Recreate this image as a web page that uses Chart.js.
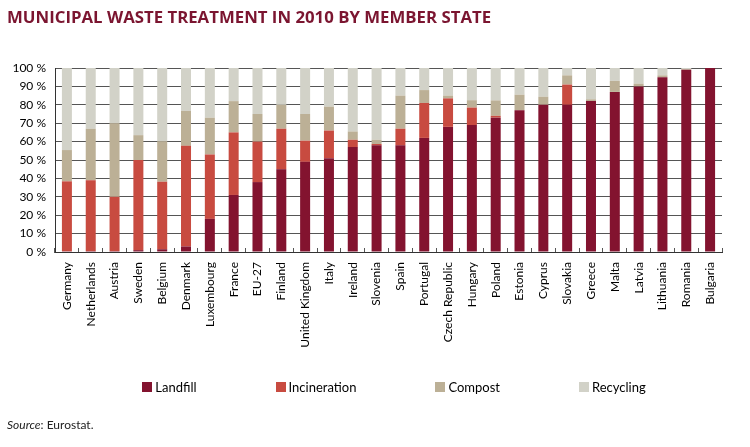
<!DOCTYPE html>
<html>
<head>
<meta charset="utf-8">
<script src="https://cdn.jsdelivr.net/npm/chart.js@4"></script>
<style>
  body { margin: 0; background: #fff; }
  #wrap { position: relative; width: 750px; height: 447px; overflow: hidden; }
  #title { position: absolute; left: 7px; top: 5px; font: bold 16.8px "Open Sans", sans-serif; color: #7b1530; white-space: nowrap; }
  #legend { position: absolute; left: 0; top: 379px; width: 788px; display: flex; justify-content: center; gap: 79px; font: 13px Lato, sans-serif; color: #000; }
  #legend .item { display: flex; align-items: center; white-space: nowrap; }
  #legend .box { width: 10px; height: 10px; margin-right: 3px; }
  #source { position: absolute; left: 7px; top: 417px; font: 12px Lato, sans-serif; color: #222; }
</style>
</head>
<body>
<div id="wrap">
  <canvas id="wasteChart" width="750" height="447"></canvas>
  <div id="title">MUNICIPAL WASTE TREATMENT IN 2010 BY MEMBER STATE</div>
  <div id="legend"></div>
  <div id="source"><i>Source</i>: Eurostat.</div>
</div>
<script>
const countries = ['Germany', 'Netherlands', 'Austria', 'Sweden', 'Belgium', 'Denmark', 'Luxembourg', 'France', 'EU-27',
    'Finland', 'United Kingdom', 'Italy', 'Ireland', 'Slovenia', 'Spain', 'Portugal', 'Czech Republic', 'Hungary',
    'Poland', 'Estonia', 'Cyprus', 'Slovakia', 'Greece', 'Malta', 'Latvia', 'Lithuania', 'Romania', 'Bulgaria'];

// shares in % of municipal waste treated
const landfill = [0.4, 0.5, 0.5, 1, 1.5, 3, 18, 31, 38, 45, 49, 51, 57, 58, 58, 62, 68, 69, 73, 77, 80, 80, 82, 87, 90, 95, 99, 100];
const incineration = [38, 38.5, 29.5, 49, 36.7, 54.7, 35, 34, 22, 22, 11.5, 15, 4, 0.7, 9, 19, 15.5, 9.5, 1, 0, 0, 11, 0, 0, 0, 0, 0, 0];
const compost = [17, 28, 40, 13.5, 22, 19, 20, 17, 15, 13, 14.5, 13, 4.5, 2.3, 18, 7, 1.5, 4, 8.4, 8.5, 4.4, 5, 1, 6, 1.5, 1, 0.4, 0];
const recycling = [44.6, 33, 30, 36.5, 39.8, 23.3, 27, 18, 25, 20, 25, 21, 34.5, 39, 15, 12, 15, 17.5, 17.6, 14.5, 15.6, 4, 17, 7, 8.5, 4, 0.6, 0];

const yTicks = [0, 10, 20, 30, 40, 50, 60, 70, 80, 90, 100];

const labelFont = 'Lato, sans-serif';

function series(label, data, color) {
    return {
        label: label,
        data: data,
        backgroundColor: color,
        borderWidth: 0,
        barPercentage: 0.42,
        categoryPercentage: 1
    };
}

const wasteChart = new Chart(document.getElementById('wasteChart'), {
    type: 'bar',
    data: {
        labels: countries,
        datasets: [
            series('Landfill', landfill, '#83132f'),
            series('Incineration', incineration, '#c84b40'),
            series('Compost', compost, '#bcb096'),
            series('Recycling', recycling, '#d2d2c8')
        ]
    },
    options: {
        responsive: false,
        animation: false,
        layout: { padding: { top: 68, right: 28, left: 0, bottom: 77 } },
        plugins: {
            tooltip: { enabled: false },
            legend: { display: false }
        },
        scales: {
            x: {
                stacked: true,
                grid: { drawOnChartArea: false, tickLength: -4, color: '#555' },
                border: { color: '#333' },
                ticks: {
                    minRotation: 90,
                    maxRotation: 90,
                    autoSkip: false,
                    padding: 14,
                    color: '#000',
                    font: { family: labelFont, size: 12 }
                },
                afterFit: scale => { scale.height = 118; }
            },
            y: {
                stacked: true,
                min: 0,
                max: 100,
                afterBuildTicks: scale => { scale.ticks = yTicks.map(v => ({ value: v })); },
                grid: { drawTicks: false, color: '#555' },
                border: { color: '#333' },
                ticks: {
                    autoSkip: false,
                    padding: 9,
                    color: '#000',
                    font: { family: labelFont, size: 12 },
                    callback: v => v + ' %'
                },
                afterFit: scale => { scale.width = 55; }
            }
        }
    }
});

// Legend built from the chart's own datasets
const legendEl = document.getElementById('legend');
wasteChart.data.datasets.forEach(ds => {
    const item = document.createElement('div');
    item.className = 'item';
    item.innerHTML = `<span class="box" style="background:${ds.backgroundColor}"></span>${ds.label}`;
    legendEl.appendChild(item);
});
</script>
</body>
</html>
